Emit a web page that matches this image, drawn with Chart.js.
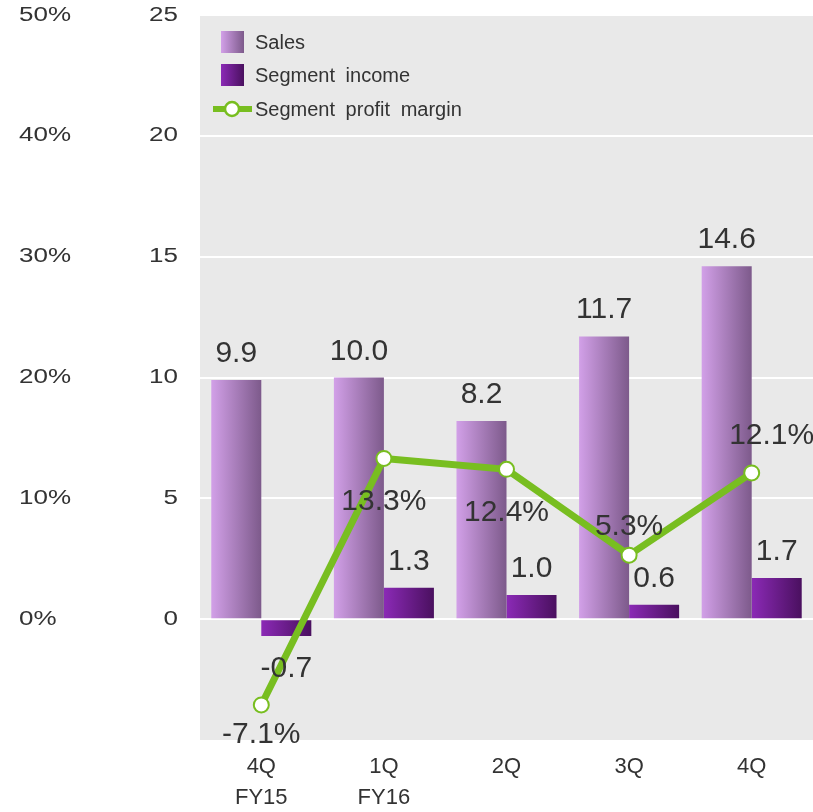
<!DOCTYPE html>
<html>
<head>
<meta charset="utf-8">
<script src="https://cdn.jsdelivr.net/npm/chart.js@4.4.1/dist/chart.umd.min.js"></script>
<style>
  html, body { margin: 0; padding: 0; background: #fff; }
  #wrap { width: 813px; height: 812px; }
</style>
</head>
<body>
<div id="wrap"><canvas id="grafico"></canvas></div>
<script>
// Dados do gráfico
const trimestres = [['4Q', 'FY15'], ['1Q', 'FY16'], '2Q', '3Q', '4Q'];
const vendas = [9.9, 10.0, 8.2, 11.7, 14.6];
const lucroSegmento = [-0.7, 1.3, 1.0, 0.6, 1.7];
const margemSegmento = [-7.1, 13.3, 12.4, 5.3, 12.1];
const ticksValor = [0, 5, 10, 15, 20, 25];
const ticksMargem = [0, 10, 20, 30, 40, 50];

// Deslocamento (x, y) dos rótulos de margem em relação ao ponto
const deslocMargem = [[0, 38], [0, 52], [0, 52], [0, -20], [20, -29]];

const COR_TEXTO = '#333333';
const COR_VERDE = '#78be20';
const FONTE = '"Liberation Sans", Arial, sans-serif';

// Zera o espaço extra que o Chart.js reserva para os rótulos
function semPadding(scale) {
    scale.paddingTop = 0;
    scale.paddingBottom = 0;
    scale.paddingLeft = 0;
    scale.paddingRight = 0;
}

// Fundo cinza da área do gráfico
const fundoPlugin = {
    id: 'fundo',
    beforeDraw(chart) {
        const { ctx, chartArea } = chart;
        ctx.save();
        ctx.fillStyle = '#e9e9e9';
        ctx.fillRect(chartArea.left, chartArea.top, chartArea.right - chartArea.left, chartArea.bottom - chartArea.top);
        ctx.restore();
    }
};

// Degradê horizontal em cada barra
const degradePlugin = {
    id: 'degrade',
    beforeDatasetsDraw(chart) {
        const ctx = chart.ctx;
        chart.data.datasets.forEach((ds, i) => {
            if (ds.type !== 'bar') return;
            chart.getDatasetMeta(i).data.forEach(el => {
                const p = el.getProps(['x', 'width'], true);
                const g = ctx.createLinearGradient(p.x - p.width / 2, 0, p.x + p.width / 2, 0);
                g.addColorStop(0, ds.corInicio);
                g.addColorStop(1, ds.corFim);
                el.options = Object.assign({}, el.options, { backgroundColor: g });
            });
        });
    }
};

// Rótulos dos eixos verticais (fonte alargada na horizontal)
const eixosPlugin = {
    id: 'eixos',
    afterDraw(chart) {
        const ctx = chart.ctx;
        const sy = chart.scales.y;
        const sy1 = chart.scales.y1;
        ctx.save();
        ctx.fillStyle = COR_TEXTO;
        ctx.font = '20px ' + FONTE;
        ctx.textBaseline = 'middle';
        ticksValor.forEach(v => {
            ctx.save();
            ctx.translate(sy.right - 22, sy.getPixelForValue(v));
            ctx.scale(1.3, 1);
            ctx.textAlign = 'right';
            ctx.fillText(String(v), 0, 0);
            ctx.restore();
        });
        ticksMargem.forEach(v => {
            ctx.save();
            ctx.translate(sy1.left, sy1.getPixelForValue(v));
            ctx.scale(1.3, 1);
            ctx.textAlign = 'left';
            ctx.fillText(v + '%', 0, 0);
            ctx.restore();
        });
        ctx.restore();
    }
};

// Rótulos de valores e legenda
const rotulosPlugin = {
    id: 'rotulos',
    afterDatasetsDraw(chart) {
        const ctx = chart.ctx;
        ctx.save();
        ctx.fillStyle = COR_TEXTO;
        ctx.font = '30px ' + FONTE;
        ctx.textAlign = 'center';
        ctx.textBaseline = 'alphabetic';

        // Barras: acima se positivo, abaixo se negativo
        [0, 1].forEach(i => {
            const valores = chart.data.datasets[i].data;
            chart.getDatasetMeta(i).data.forEach((el, j) => {
                const v = valores[j];
                const y = v >= 0 ? el.y - 18 : el.y + 41;
                ctx.fillText(v.toFixed(1), el.x, y);
            });
        });

        // Linha de margem
        chart.getDatasetMeta(2).data.forEach((pt, j) => {
            const d = deslocMargem[j];
            ctx.fillText(margemSegmento[j].toFixed(1) + '%', pt.x + d[0], pt.y + d[1]);
        });

        // Legenda dentro da área do gráfico
        ctx.font = '20px ' + FONTE;
        if ('wordSpacing' in ctx) ctx.wordSpacing = '5px';
        ctx.textAlign = 'left';
        ctx.textBaseline = 'middle';
        const itens = [
            { ds: chart.data.datasets[0], y: 42 },
            { ds: chart.data.datasets[1], y: 75 }
        ];
        itens.forEach(it => {
            const g = ctx.createLinearGradient(221, 0, 244, 0);
            g.addColorStop(0, it.ds.corInicio);
            g.addColorStop(1, it.ds.corFim);
            ctx.fillStyle = g;
            ctx.fillRect(221, it.y - 11, 23, 22);
            ctx.fillStyle = COR_TEXTO;
            ctx.fillText(it.ds.label, 255, it.y + 1);
        });
        ctx.strokeStyle = COR_VERDE;
        ctx.lineWidth = 6;
        ctx.beginPath();
        ctx.moveTo(213, 109);
        ctx.lineTo(252, 109);
        ctx.stroke();
        ctx.beginPath();
        ctx.arc(232, 109, 7, 0, Math.PI * 2);
        ctx.fillStyle = '#fff';
        ctx.fill();
        ctx.lineWidth = 2.5;
        ctx.stroke();
        ctx.fillStyle = COR_TEXTO;
        ctx.fillText(chart.data.datasets[2].label, 255, 110);
        ctx.restore();
    }
};

function inicializarGrafico() {
    const ctx = document.getElementById('grafico').getContext('2d');
    new Chart(ctx, {
        data: {
            labels: trimestres,
            datasets: [
                {
                    type: 'bar',
                    label: 'Sales',
                    data: vendas,
                    yAxisID: 'y',
                    corInicio: '#d2a0e8',
                    corFim: '#7d5a8b',
                    backgroundColor: '#b080c8',
                    categoryPercentage: 0.816,
                    barPercentage: 1.0,
                    order: 2
                },
                {
                    type: 'bar',
                    label: 'Segment income',
                    data: lucroSegmento,
                    yAxisID: 'y',
                    corInicio: '#8b2ab6',
                    corFim: '#4a105f',
                    backgroundColor: '#6a1d8a',
                    categoryPercentage: 0.816,
                    barPercentage: 1.0,
                    order: 2
                },
                {
                    type: 'line',
                    label: 'Segment profit margin',
                    data: margemSegmento,
                    yAxisID: 'y1',
                    borderColor: COR_VERDE,
                    borderWidth: 7,
                    pointRadius: 7.5,
                    pointBorderWidth: 2,
                    pointBackgroundColor: '#ffffff',
                    pointBorderColor: COR_VERDE,
                    tension: 0,
                    clip: false,
                    order: 1
                }
            ]
        },
        options: {
            responsive: true,
            maintainAspectRatio: false,
            animation: false,
            layout: {
                autoPadding: false,
                padding: { left: 19, right: 0, top: 15, bottom: 0 }
            },
            plugins: {
                legend: { display: false },
                tooltip: { enabled: false }
            },
            scales: {
                x: {
                    grid: { display: false, drawTicks: false },
                    border: { display: false },
                    ticks: {
                        color: COR_TEXTO,
                        font: { family: FONTE, size: 22, lineHeight: 1.4 },
                        padding: 12,
                        maxRotation: 0
                    },
                    afterFit(scale) {
                        scale.height = 72;
                        semPadding(scale);
                    }
                },
                y: {
                    position: 'left',
                    weight: 0,
                    min: -5,
                    max: 25,
                    afterBuildTicks(scale) {
                        scale.ticks = [-5].concat(ticksValor).map(v => ({ value: v }));
                    },
                    grid: {
                        drawTicks: false,
                        lineWidth: 2,
                        color: c => (c.tick && c.tick.value >= 0 ? '#ffffff' : 'rgba(0,0,0,0)')
                    },
                    border: { display: false },
                    ticks: { display: false },
                    afterFit(scale) {
                        scale.width = 60;
                        semPadding(scale);
                    }
                },
                y1: {
                    position: 'left',
                    weight: 1,
                    min: -10,
                    max: 50,
                    grid: { display: false, drawTicks: false },
                    border: { display: false },
                    ticks: { display: false },
                    afterFit(scale) {
                        scale.width = 121;
                        semPadding(scale);
                    }
                }
            }
        },
        plugins: [fundoPlugin, degradePlugin, rotulosPlugin, eixosPlugin]
    });
}

document.addEventListener('DOMContentLoaded', inicializarGrafico);
</script>
</body>
</html>
